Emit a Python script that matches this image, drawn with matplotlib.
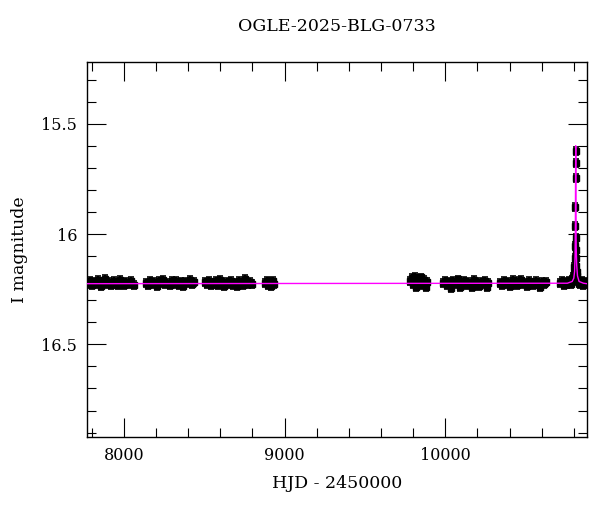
import matplotlib
matplotlib.use("Agg")
from matplotlib import pyplot as plt
from matplotlib.ticker import MultipleLocator

plt.rcParams['font.family'] = ['DejaVu Serif']

# OGLE photometry, season by season (HJD - 2450000, I mag)
t1 = [7776, 7788, 7800, 7811, 7823, 7836, 7848, 7860, 7873, 7885, 7897, 7910,
      7922, 7935, 7948, 7960, 7973, 7986, 8000, 8014, 8030, 8046, 8062]
m1 = [16.225, 16.214, 16.231, 16.219, 16.228, 16.210, 16.222, 16.235, 16.216,
      16.205, 16.226, 16.218, 16.232, 16.212, 16.224, 16.229, 16.208, 16.221,
      16.233, 16.217, 16.226, 16.213, 16.230]

t2 = [8138, 8150, 8163, 8176, 8190, 8203, 8216, 8230, 8244, 8258, 8271, 8285,
      8298, 8312, 8326, 8340, 8354, 8368, 8382, 8396, 8410, 8424, 8438]
m2 = [16.222, 16.231, 16.213, 16.226, 16.219, 16.236, 16.215, 16.224, 16.209,
      16.228, 16.220, 16.232, 16.214, 16.225, 16.211, 16.229, 16.218, 16.234,
      16.216, 16.223, 16.207, 16.227, 16.219]

t3 = [8505, 8518, 8531, 8544, 8557, 8570, 8583, 8597, 8611, 8625, 8639, 8652,
      8665, 8678, 8691, 8704, 8717, 8730, 8743, 8756, 8770, 8784, 8798]
m3 = [16.219, 16.228, 16.212, 16.233, 16.221, 16.215, 16.230, 16.209, 16.224,
      16.236, 16.217, 16.226, 16.211, 16.229, 16.220, 16.234, 16.214, 16.223,
      16.231, 16.203, 16.227, 16.218, 16.225]

t4 = [8878, 8888, 8898, 8908, 8918, 8928, 8935]
m4 = [16.222, 16.212, 16.231, 16.218, 16.236, 16.215, 16.226]

t5 = [9781, 9790, 9800, 9810, 9820, 9830, 9840, 9850, 9860, 9870, 9880, 9888]
m5 = [16.214, 16.200, 16.228, 16.193, 16.238, 16.205, 16.220, 16.197, 16.232,
      16.210, 16.241, 16.216]

t6 = [9986, 9999, 10012, 10025, 10038, 10051, 10064, 10077, 10090, 10103,
      10116, 10129, 10142, 10155, 10168, 10181, 10194, 10207, 10220, 10233,
      10246, 10258, 10266]
m6 = [16.224, 16.214, 16.232, 16.219, 16.245, 16.211, 16.227, 16.206, 16.238,
      16.220, 16.213, 16.231, 16.217, 16.226, 16.241, 16.209, 16.223, 16.235,
      16.216, 16.228, 16.212, 16.242, 16.221]

t7 = [10341, 10354, 10367, 10380, 10393, 10406, 10419, 10432, 10445, 10458,
      10471, 10484, 10497, 10510, 10523, 10536, 10549, 10562, 10575, 10588,
      10601, 10614, 10627]
m7 = [16.221, 16.230, 16.213, 16.226, 16.217, 16.234, 16.210, 16.224, 16.229,
      16.215, 16.209, 16.227, 16.220, 16.236, 16.214, 16.223, 16.231, 16.212,
      16.226, 16.239, 16.218, 16.225, 16.216]

t8 = [10715, 10726, 10737, 10748, 10759, 10770, 10780, 10788, 10795, 10800,
      10804, 10806, 10808, 10809, 10810, 10811, 10811.5, 10812, 10813, 10814,
      10815, 10816, 10818, 10820, 10823, 10827, 10832, 10840, 10850, 10860,
      10870, 10878]
m8 = [16.222, 16.214, 16.231, 16.219, 16.226, 16.212, 16.228, 16.206, 16.195,
      16.182, 16.150, 16.110, 16.055, 15.964, 15.877, 15.676, 15.623, 15.745,
      16.017, 16.073, 16.109, 16.145, 16.170, 16.190, 16.205, 16.212, 16.220,
      16.227, 16.215, 16.230, 16.218, 16.224]

err = 0.018

# fitted point-lens model
t_model = [7770, 10760, 10790, 10800, 10805, 10808, 10810, 10811, 10812,
           10813, 10815, 10818, 10823, 10833, 10860, 10881]
m_model = [16.225, 16.223, 16.215, 16.200, 16.170, 16.100, 15.950, 15.750,
           15.600, 15.880, 16.060, 16.140, 16.190, 16.215, 16.223, 16.225]

fig = plt.figure(figsize=(6, 5.12), dpi=100)
ax = fig.add_axes([0.145, 0.1465, 0.833, 0.7325])

for t, m in [(t1, m1), (t2, m2), (t3, m3), (t4, m4), (t5, m5), (t6, m6),
             (t7, m7), (t8, m8)]:
    ax.errorbar(t, m, yerr=err, fmt='s', color='black', ms=4.5,
                elinewidth=1.6, capsize=2.2, capthick=1.2, zorder=2)

ax.plot(t_model, m_model, color='#ff00ff', lw=1.0, zorder=3)

ax.set_xlim(7770, 10881)
ax.set_ylim(16.92, 15.22)

ax.xaxis.set_major_locator(MultipleLocator(1000))
ax.xaxis.set_minor_locator(MultipleLocator(200))
ax.yaxis.set_major_locator(MultipleLocator(0.5))
ax.yaxis.set_minor_locator(MultipleLocator(0.1))
ax.set_yticks([15.5, 16, 16.5])
ax.set_yticklabels(['15.5', '16', '16.5'])

ax.tick_params(which='both', direction='in', top=True, right=True,
               labelsize=11.5, width=0.8)
ax.tick_params(which='major', length=13.5, pad=7)
ax.tick_params(which='minor', length=6.5)
for s in ax.spines.values():
    s.set_linewidth(1.0)

ax.set_title('OGLE-2025-BLG-0733', fontsize=12.5, pad=22)
ax.set_xlabel('HJD - 2450000', fontsize=12.5, labelpad=8)
ax.set_ylabel('I magnitude', fontsize=12.5, labelpad=10)

fig.savefig('out.png', dpi=100)
